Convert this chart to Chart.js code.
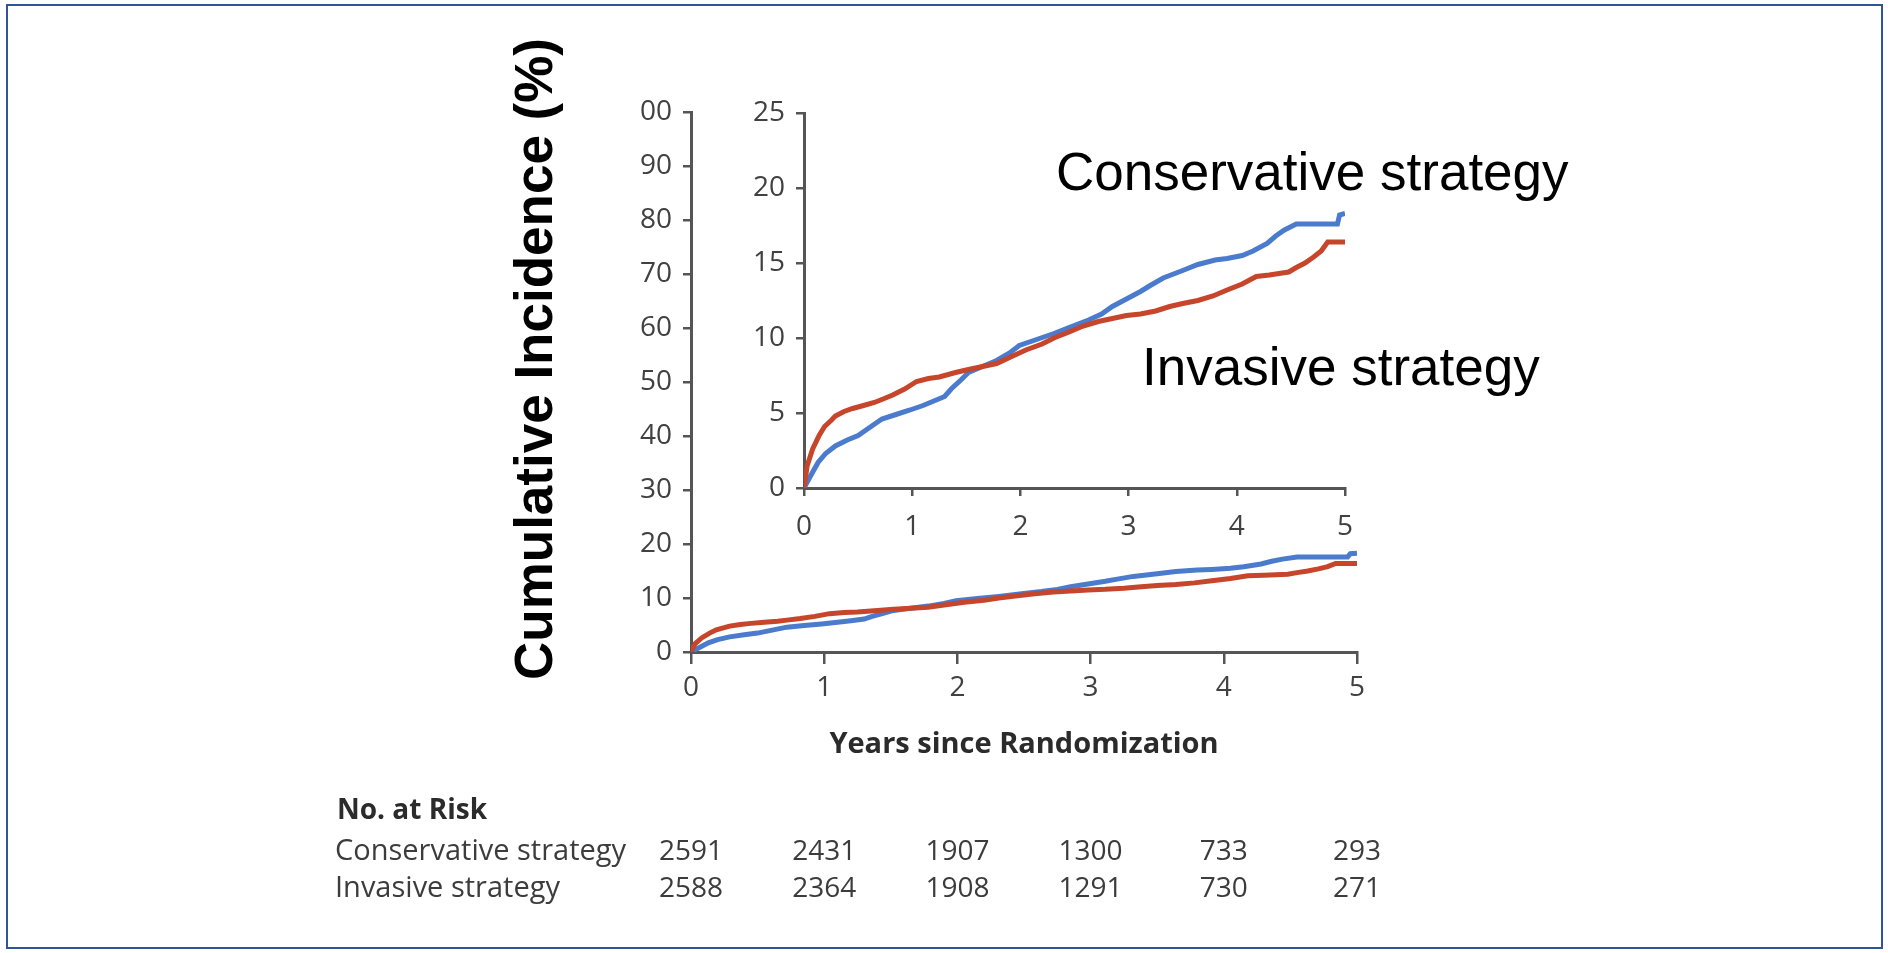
<!DOCTYPE html>
<html>
<head>
<meta charset="utf-8">
<title>Cumulative Incidence</title>
<script src="https://cdn.jsdelivr.net/npm/chart.js@4.4.1/dist/chart.umd.min.js"></script>
<style>
    body { margin: 0; background: #ffffff; width: 1888px; height: 953px; overflow: hidden; }
    #frame { position: absolute; left: 6px; top: 4px; width: 1873px; height: 941px; border: 2px solid #2f5597; }
    canvas { position: absolute; left: 0; top: 0; }
</style>
</head>
<body>
<div id="frame"></div>
<canvas id="outer-chart" width="1888" height="953"></canvas>
<canvas id="inner-chart" width="1888" height="953"></canvas>
<script>
// conservative strategy (blue)
const conservativeYears = [0, 0.06, 0.13, 0.2, 0.29, 0.4, 0.5, 0.6, 0.72, 0.85, 0.98, 1.1, 1.2, 1.3, 1.36, 1.45, 1.52, 1.65, 1.78, 1.9, 1.99, 2.15, 2.31, 2.45, 2.63, 2.75, 2.85, 2.98, 3.11, 3.2, 3.32, 3.5, 3.64, 3.8, 3.91, 4.05, 4.15, 4.28, 4.36, 4.44, 4.55, 4.7, 4.93, 4.95, 5.0];
const conservativeIncidence = [0, 0.8, 1.7, 2.3, 2.8, 3.2, 3.5, 4.0, 4.6, 4.9, 5.2, 5.5, 5.8, 6.1, 6.6, 7.2, 7.7, 8.1, 8.5, 9.0, 9.5, 9.9, 10.3, 10.7, 11.2, 11.6, 12.1, 12.6, 13.1, 13.5, 14.0, 14.5, 14.9, 15.2, 15.3, 15.5, 15.8, 16.3, 16.8, 17.2, 17.6, 17.6, 17.6, 18.2, 18.3];

// invasive strategy (red)
const invasiveYears = [0, 0.03, 0.08, 0.14, 0.19, 0.25, 0.29, 0.37, 0.45, 0.55, 0.65, 0.72, 0.82, 0.93, 1.04, 1.15, 1.25, 1.4, 1.52, 1.65, 1.78, 1.9, 2.05, 2.2, 2.31, 2.45, 2.58, 2.72, 2.85, 2.98, 3.11, 3.25, 3.38, 3.5, 3.64, 3.78, 3.91, 4.05, 4.18, 4.3, 4.39, 4.48, 4.55, 4.63, 4.71, 4.78, 4.84, 5.0];
const invasiveIncidence = [0, 1.5, 2.6, 3.5, 4.1, 4.5, 4.8, 5.1, 5.3, 5.5, 5.7, 5.9, 6.2, 6.6, 7.1, 7.3, 7.4, 7.7, 7.9, 8.1, 8.3, 8.7, 9.2, 9.6, 10.0, 10.4, 10.8, 11.1, 11.3, 11.5, 11.6, 11.8, 12.1, 12.3, 12.5, 12.8, 13.2, 13.6, 14.1, 14.2, 14.3, 14.4, 14.7, 15.0, 15.4, 15.8, 16.4, 16.4];

// number at risk table
const riskYears = [0, 1, 2, 3, 4, 5];
const riskConservative = [2591, 2431, 1907, 1300, 733, 293];
const riskInvasive = [2588, 2364, 1908, 1291, 730, 271];

const seriesNames = ['Conservative strategy', 'Invasive strategy'];
const blue = '#4a7bcd';
const red = '#c6452b';
const axisGrey = '#555555';
const tickGrey = '#414141';

Chart.defaults.font.family = "'Open Sans', sans-serif";
Chart.defaults.color = tickGrey;

function toPoints(xs, ys) {
    return xs.map((x, i) => ({ x: x, y: ys[i] }));
}

function makeDatasets() {
    return [
        {
            label: seriesNames[0],
            data: toPoints(conservativeYears, conservativeIncidence),
            borderColor: blue,
            borderWidth: 5,
            pointRadius: 0,
            tension: 0,
            order: 2
        },
        {
            label: seriesNames[1],
            data: toPoints(invasiveYears, invasiveIncidence),
            borderColor: red,
            borderWidth: 5,
            pointRadius: 0,
            tension: 0,
            order: 1
        }
    ];
}

function axisScale(opts) {
    return {
        type: 'linear',
        min: opts.min,
        max: opts.max,
        ticks: {
            stepSize: opts.step,
            padding: opts.padding,
            color: tickGrey,
            font: { size: 28 },
            callback: opts.callback || (v => v)
        },
        grid: {
            display: true,
            drawOnChartArea: false,
            drawTicks: true,
            tickLength: opts.tickLength,
            color: axisGrey,
            lineWidth: 2.5
        },
        border: { display: true, color: axisGrey, width: 3 },
        title: opts.title || { display: false },
        afterFit: opts.afterFit
    };
}

// texts drawn around the main chart: y title, curve labels, numbers at risk
const decorations = {
    id: 'decorations',
    afterDraw(chart) {
        const ctx = chart.ctx;
        const xScale = chart.scales.x;
        ctx.save();

        ctx.fillStyle = '#000000';
        ctx.font = "bold 53px 'Liberation Sans', Arial, sans-serif";
        ctx.textAlign = 'center';
        ctx.textBaseline = 'alphabetic';
        ctx.translate(552, 359);
        ctx.rotate(-Math.PI / 2);
        ctx.fillText('Cumulative Incidence (%)', 0, 0);
        ctx.setTransform(1, 0, 0, 1, 0, 0);

        ctx.font = "53px 'Liberation Sans', Arial, sans-serif";
        ctx.textAlign = 'left';
        ctx.fillText(seriesNames[0], 1056, 190);
        ctx.fillText(seriesNames[1], 1142, 385);

        ctx.fillStyle = '#2b2b2b';
        ctx.font = "bold 28px 'Open Sans', sans-serif";
        ctx.fillText('No. at Risk', 337, 819);

        ctx.fillStyle = '#3c3c3c';
        ctx.font = "29px 'Open Sans', sans-serif";
        ctx.fillText(seriesNames[0], 335, 860);
        ctx.fillText(seriesNames[1], 335, 897);
        ctx.font = "28px 'Open Sans', sans-serif";
        ctx.textAlign = 'center';
        riskYears.forEach((yr, i) => {
            const px = xScale.getPixelForValue(yr);
            ctx.fillText(String(riskConservative[i]), px, 860);
            ctx.fillText(String(riskInvasive[i]), px, 897);
        });
        ctx.restore();
    }
};

// main chart, 0-100 %
new Chart(document.getElementById('outer-chart'), {
    type: 'line',
    data: { datasets: makeDatasets() },
    options: {
        responsive: false,
        animation: false,
        devicePixelRatio: 1,
        layout: { padding: { left: 631, top: 112, right: 531, bottom: 191 } },
        plugins: { legend: { display: false }, tooltip: { enabled: false } },
        scales: {
            x: axisScale({
                min: 0, max: 5, step: 1, padding: 7, tickLength: 12,
                title: {
                    display: true,
                    text: 'Years since Randomization',
                    color: '#2b2b2b',
                    font: { size: 29, weight: 'bold' },
                    padding: 0
                },
                afterFit: s => { s.height = 110; }
            }),
            y: axisScale({
                min: 0, max: 100, step: 10, padding: 11, tickLength: 8,
                callback: v => (v === 100 ? '00' : v),
                afterFit: s => { s.width = 60; }
            })
        }
    },
    plugins: [decorations]
});

// inset, 0-25 %
new Chart(document.getElementById('inner-chart'), {
    type: 'line',
    data: { datasets: makeDatasets() },
    options: {
        responsive: false,
        animation: false,
        devicePixelRatio: 1,
        layout: { padding: { left: 744, top: 113, right: 543, bottom: 405 } },
        plugins: { legend: { display: false }, tooltip: { enabled: false } },
        scales: {
            x: axisScale({
                min: 0, max: 5, step: 1, padding: 14, tickLength: 8,
                afterFit: s => { s.height = 60; }
            }),
            y: axisScale({
                min: 0, max: 25, step: 5, padding: 11, tickLength: 8,
                afterFit: s => { s.width = 60; }
            })
        }
    }
});
</script>
</body>
</html>
